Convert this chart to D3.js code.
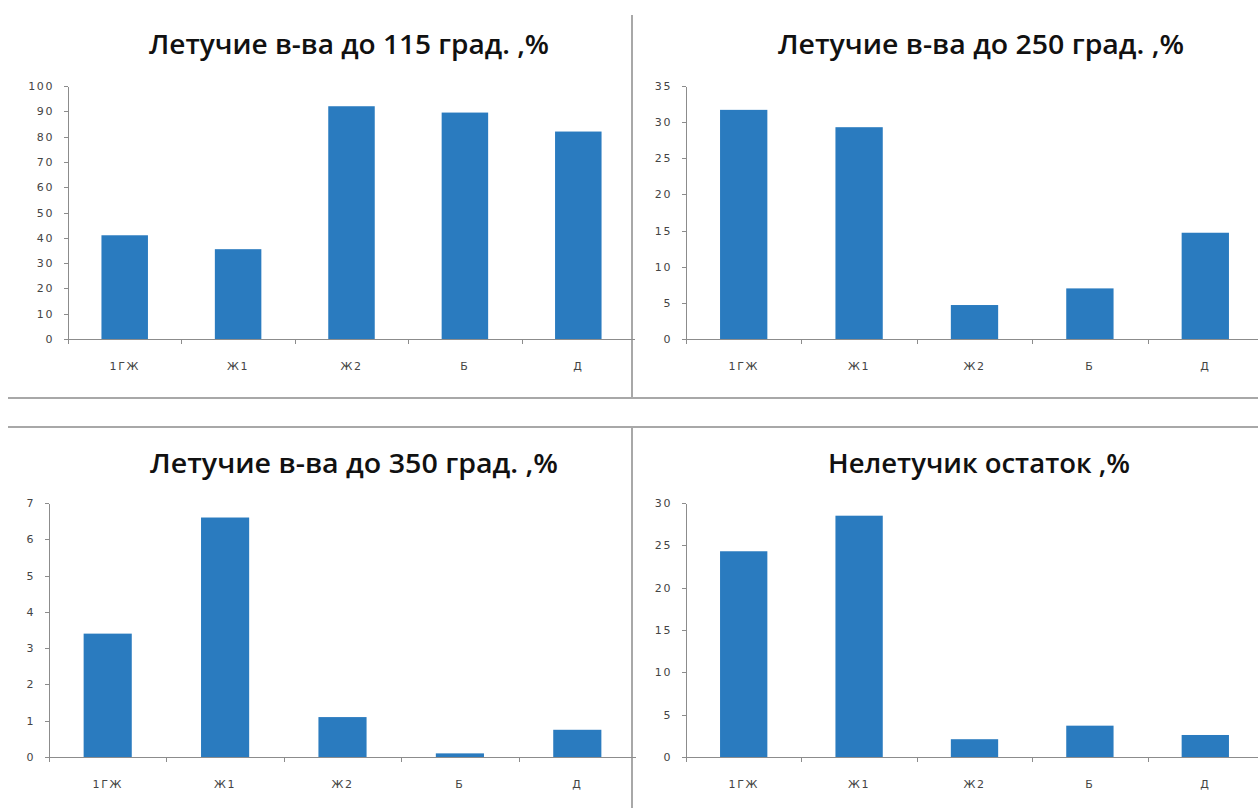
<!DOCTYPE html>
<html>
<head>
<meta charset="utf-8">
<script src="https://cdn.jsdelivr.net/npm/d3@7"></script>
<style>
  html, body { margin: 0; padding: 0; background: #fff; }
  svg { display: block; }
  .axis path, .axis line { stroke: #8c8c8c; shape-rendering: crispEdges; }
  .axis text { font-family: "DejaVu Sans", sans-serif; font-size: 11px; letter-spacing: 1.6px; fill: #444; }
  .title { font-family: "Open Sans", "Noto Sans", sans-serif; font-weight: 600; font-size: 27px; fill: #111; }
</style>
</head>
<body>
<svg id="chart" width="1258" height="808"></svg>
<script>
// Sample categories shared by all four panels
const categories = ["1ГЖ", "Ж1", "Ж2", "Б", "Д"];

// Volatile fractions distilled up to 115 °C, %
const volatiles115 = [41, 35.5, 92, 89.5, 82];
// Volatile fractions distilled up to 250 °C, %
const volatiles250 = [31.7, 29.3, 4.7, 7.0, 14.7];
// Volatile fractions distilled up to 350 °C, %
const volatiles350 = [3.4, 6.6, 1.1, 0.1, 0.75];
// Non-volatile residue, %
const residue = [24.3, 28.5, 2.1, 3.7, 2.6];

// Axis tick values per panel
const ticks115 = [0, 10, 20, 30, 40, 50, 60, 70, 80, 90, 100];
const ticks250 = [0, 5, 10, 15, 20, 25, 30, 35];
const ticks350 = [0, 1, 2, 3, 4, 5, 6, 7];
const ticksResidue = [0, 5, 10, 15, 20, 25, 30];

// Panel titles
const titles = [
  "Летучие в-ва до 115 град. ,%",
  "Летучие в-ва до 250 град. ,%",
  "Летучие в-ва до 350 град. ,%",
  "Нелетучик остаток ,%"
];

const panels = [
  { title: titles[0], values: volatiles115, ticks: ticks115, x0: 68, x1: 635, y0: 339, y1: 86,
    tx: 349, ty: 54, tw: 400 },
  { title: titles[1], values: volatiles250, ticks: ticks250, x0: 686, x1: 1263, y0: 339, y1: 86,
    tx: 981, ty: 54, tw: 406 },
  { title: titles[2], values: volatiles350, ticks: ticks350, x0: 49, x1: 636, y0: 757, y1: 503,
    tx: 354, ty: 473, tw: 408 },
  { title: titles[3], values: residue, ticks: ticksResidue, x0: 686, x1: 1263, y0: 757, y1: 503,
    tx: 979, ty: 473, tw: 302 }
];

const svg = d3.select("#chart");
const barColor = "#2a7bbf";
const barShare = 0.41;

// Frame dividers between the four panels
const frame = svg.append("g").attr("stroke", "#a8a8a8").attr("stroke-width", 2);
frame.append("line").attr("x1", 8).attr("x2", 1258).attr("y1", 398).attr("y2", 398);
frame.append("line").attr("x1", 8).attr("x2", 1258).attr("y1", 427).attr("y2", 427);
frame.append("line").attr("x1", 632).attr("x2", 632).attr("y1", 15).attr("y2", 398);
frame.append("line").attr("x1", 632).attr("x2", 632).attr("y1", 427).attr("y2", 808);

panels.forEach(p => {
  const g = svg.append("g");
  const x = d3.scaleBand().domain(categories).range([p.x0, p.x1]).padding(0);
  const yMax = p.ticks[p.ticks.length - 1];
  const y = d3.scaleLinear().domain([0, yMax]).range([p.y0, p.y1]);

  // Bars
  const bw = x.bandwidth() * barShare;
  g.selectAll("rect")
    .data(p.values)
    .join("rect")
    .attr("x", (d, i) => x(categories[i]) + (x.bandwidth() - bw) / 2)
    .attr("y", d => y(d))
    .attr("width", bw)
    .attr("height", d => y(0) - y(d))
    .attr("fill", barColor);

  // Y axis
  g.append("g")
    .attr("class", "axis")
    .attr("transform", `translate(${p.x0},0)`)
    .call(d3.axisLeft(y).tickValues(p.ticks).tickSize(4).tickSizeOuter(0).tickPadding(10).tickFormat(d3.format("d")));

  // X axis: labels at category centres
  const xa = g.append("g")
    .attr("class", "axis")
    .attr("transform", `translate(0,${p.y0})`)
    .call(d3.axisBottom(x).tickSize(0));
  xa.select(".domain").remove();
  xa.selectAll(".tick text").attr("dy", "0.35em").attr("y", 27);

  // X axis baseline and boundary ticks
  g.append("line")
    .attr("stroke", "#8c8c8c")
    .attr("x1", p.x0).attr("x2", p.x1)
    .attr("y1", p.y0 + 0.5).attr("y2", p.y0 + 0.5);
  g.selectAll(".bound")
    .data(categories)
    .join("line")
    .attr("class", "bound")
    .attr("stroke", "#8c8c8c")
    .attr("x1", d => Math.round(x(d)) + 0.5).attr("x2", d => Math.round(x(d)) + 0.5)
    .attr("y1", p.y0).attr("y2", p.y0 + 5);

  // Title
  g.append("text")
    .attr("class", "title")
    .attr("x", p.tx).attr("y", p.ty)
    .attr("text-anchor", "middle")
    .attr("textLength", p.tw)
    .attr("lengthAdjust", "spacingAndGlyphs")
    .text(p.title);
});
</script>
</body>
</html>
